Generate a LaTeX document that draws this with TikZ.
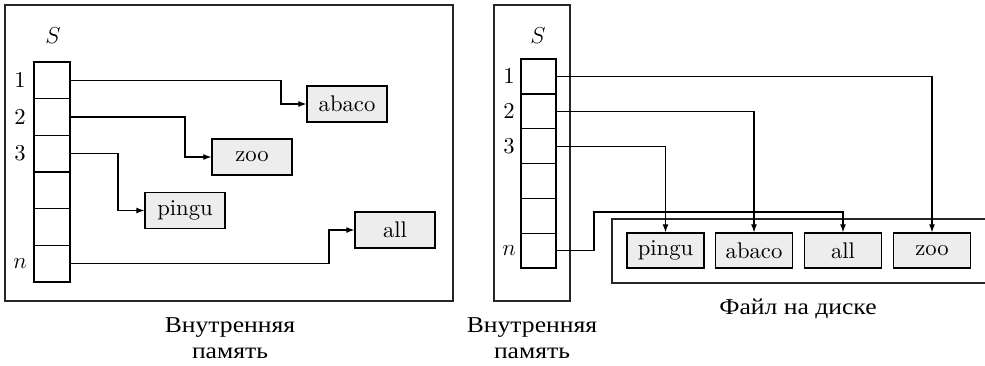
\documentclass[tikz,border=0pt]{standalone}
\usepackage{fontspec}
\setmainfont{lmroman10-regular.otf}
\newfontfamily\cyrfont[FakeStretch=1.13]{Liberation Serif}
\usetikzlibrary{arrows.meta}
\begin{document}
\begin{tikzpicture}[x=0.75pt,y=-0.75pt,
  every node/.style={font=\fontsize{17}{20}\selectfont},
  frame/.style={draw,line width=1pt,draw=black!85},
  cellL/.style={draw,line width=1pt,minimum width=27pt,minimum height=27.5pt,inner sep=0pt},
  cellR/.style={draw,line width=1pt,minimum width=26.25pt,minimum height=26.1pt,inner sep=0pt},
  keyL/.style={draw,line width=1pt,fill=black!7,minimum width=60pt,minimum height=27pt,inner sep=0pt},
  keyR/.style={draw,line width=1pt,fill=black!7,minimum width=57.75pt,minimum height=26.25pt,inner sep=0pt},
  arr/.style={line width=0.85pt,-{Latex[length=6pt,width=4.5pt]}},
  caption/.style={font=\cyrfont\fontsize{17}{20.25}\selectfont,align=center,inner sep=0pt}]
\useasboundingbox (0,0) rectangle (985,366);

% ---- left: index array in main memory ----
\draw[frame] (5,5) rectangle (453,301);
\node (SL) at (53,36) {$S$};
\foreach \i/\y in {1/80.3,2/117,3/153.7,4/190.3,5/227,6/263.7}
  \node[cellL] (L\i) at (52,\y) {};
\node (nL1) at (20,80.3) {1};
\node (nL2) at (20,117) {2};
\node (nL3) at (20,153.7) {3};
\node (nLn) at (20,263.7) {$n$};

\node[keyL] (LA) at (347,104) {abaco};
\node[keyL] (LZ) at (252,157) {zoo};
\node[keyL] (LP) at (185,210.5) {pingu};
\node[keyL] (LL) at (395,230) {all};

\draw[arr] (L1.east) -| (281,104) -- (LA.west);
\draw[arr] (L2.east) -| (185,157) -- (LZ.west);
\draw[arr] (L3.east) -| (118,210.5) -- (LP.west);
\draw[arr] (L6.east) -| (329,230) -- (LL.west);

\node[caption,anchor=base] (capL) at (230,359) {Внутренняя\\память};

% ---- right: index array pointing into a disk file ----
\draw[frame] (494,5) rectangle (570,301);
\node (SR) at (538,36) {$S$};
\foreach \i/\y in {1/76.4,2/111.3,3/146.1,4/180.9,5/215.8,6/250.6}
  \node[cellR] (R\i) at (538.5,\y) {};
\node (nR1) at (509,76.4) {1};
\node (nR2) at (509,111.3) {2};
\node (nR3) at (509,146.1) {3};
\node (nRn) at (509,250.6) {$n$};

\draw[frame] (990,219) -- (612,219) -- (612,283) -- (990,283);
\node[keyR] (RP) at (665.5,250.5) {pingu};
\node[keyR] (RA) at (754,250.5) {abaco};
\node[keyR] (RL) at (843,250.5) {all};
\node[keyR] (RZ) at (932,250.5) {zoo};

\draw[arr] (R1.east) -| (RZ.north);
\draw[arr] (R2.east) -| (RA.north);
\draw[arr] (R3.east) -| (RP.north);
\draw[arr] (R6.east) -| (594,212) -| (RL.north);

\node[caption,anchor=base] (capR) at (532,359) {Внутренняя\\память};
\node[caption,anchor=base] (capF) at (798,315) {Файл на диске};
\end{tikzpicture}
\end{document}
